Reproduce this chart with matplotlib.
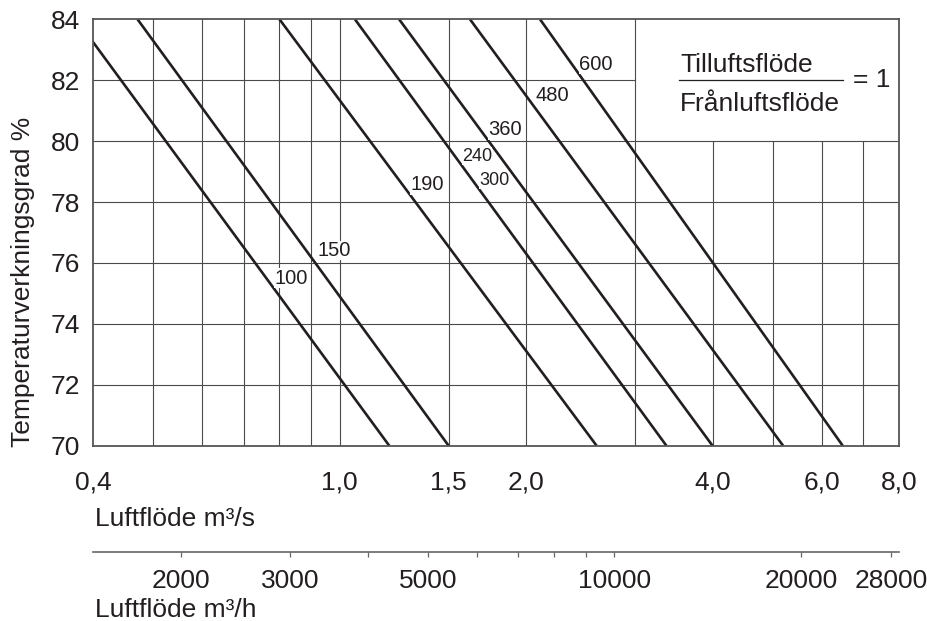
import matplotlib
matplotlib.use("Agg")
import matplotlib.pyplot as plt
from matplotlib.lines import Line2D
from matplotlib.ticker import FixedLocator, FixedFormatter, NullLocator

plt.rcParams['font.family'] = ['Liberation Sans', 'DejaVu Sans']

# ---------------- data ----------------
x_min, x_max = 0.4, 8.0
y_min, y_max = 70, 84
y_ticks = [70, 72, 74, 76, 78, 80, 82, 84]
x_ticks = [0.4, 1.0, 1.5, 2.0, 4.0, 6.0, 8.0]
x_tick_labels = ["0,4", "1,0", "1,5", "2,0", "4,0", "6,0", "8,0"]
grid_x_full = [0.5, 0.6, 0.7, 0.8, 0.9, 1.0, 1.5, 2.0, 3.0]
grid_x_lower = [4.0, 5.0, 6.0, 7.0]
grid_y_full = [72, 74, 76, 78, 80]
grid_y_left = [82]
# efficiency lines: air flow (m3/s) where each line reaches 84 % and 70 %
flow_at_84 = [0.376, 0.472, 0.80, 1.059, 1.248, 1.624, 2.107]
flow_at_70 = [1.203, 1.50, 2.60, 3.37, 4.00, 5.20, 6.49]
line_labels = ["100", "150", "190", "240", "300", "360", "480", "600"]
m3h_ticks = [2000, 3000, 4000, 5000, 6000, 7000, 8000, 9000, 10000, 20000, 28000]
m3h_tick_labels = ["2000", "3000", "", "5000", "", "", "", "", "10000", "20000", "28000"]
s_per_h = 3600

# ---------------- layout ----------------
W, H = 928, 621
def fx(px): return px / W
def fy(py): return 1 - py / H

label_xy = [(0.784, 75.5), (0.92, 76.41), (1.30, 78.56), (1.576, 79.51),
            (1.68, 78.71), (1.737, 80.37), (2.068, 81.51), (2.435, 82.52)]
label_size = [14.5, 14.5, 14.5, 13, 13, 14.5, 14.5, 14.5]

ink = '#231f20'
gridc = '#4a4a4a'
FS = 19

fig = plt.figure(figsize=(W / 100, H / 100), dpi=100)
ax = fig.add_axes([fx(93), fy(445.7), fx(899) - fx(93), fy(19.3) - fy(445.7)])
ax.set_xscale('log')
ax.set_xlim(x_min, x_max)
ax.set_ylim(y_min, y_max)

# grid
for gx in grid_x_full:
    ax.plot([gx, gx], [y_min, y_max], color=gridc, lw=0.8, zorder=1)
for gx in grid_x_lower:
    ax.plot([gx, gx], [y_min, 80], color=gridc, lw=0.8, zorder=1)
for gy in grid_y_full:
    ax.plot([x_min, x_max], [gy, gy], color=gridc, lw=0.8, zorder=1)
for gy in grid_y_left:
    ax.plot([x_min, 3.0], [gy, gy], color=gridc, lw=0.8, zorder=1)

# efficiency lines
for a, b in zip(flow_at_84, flow_at_70):
    ax.plot([a, b], [84, 70], color=ink, lw=1.9, zorder=3, solid_capstyle='butt')

for lab, (lx, ly), s in zip(line_labels, label_xy, label_size):
    ax.text(lx, ly, lab, fontsize=s, color=ink, ha='left', va='center', zorder=4,
            bbox=dict(facecolor='white', edgecolor='none', pad=0.3))

for sp in ax.spines.values():
    sp.set_color('#555555')
    sp.set_linewidth(1.3)
    sp.set_zorder(5)

ax.xaxis.set_major_locator(FixedLocator(x_ticks))
ax.xaxis.set_major_formatter(FixedFormatter(x_tick_labels))
ax.xaxis.set_minor_locator(NullLocator())
ax.set_yticks(y_ticks)
ax.set_yticklabels([str(v) for v in y_ticks])
ax.tick_params(axis='x', length=0, pad=18, labelsize=FS, labelcolor=ink)
ax.tick_params(axis='y', length=0, pad=9, labelsize=FS, labelcolor=ink)

# axis titles
fig.text(fx(95), fy(526), "Luftflöde m³/s", fontsize=FS, color=ink, ha='left', va='baseline')
fig.text(fx(95), fy(617), "Luftflöde m³/h", fontsize=FS, color=ink, ha='left', va='baseline')
fig.text(fx(23), fy(447), "Temperaturverkningsgrad %", fontsize=FS, color=ink,
         rotation=90, ha='center', va='bottom')

# second (m3/h) axis
ax2 = fig.add_axes([fx(93), fy(551.7), fx(899) - fx(93), 0.0001])
ax2.set_xscale('log')
ax2.set_xlim(x_min * s_per_h, x_max * s_per_h)
ax2.set_yticks([])
for k in ['top', 'left', 'right']:
    ax2.spines[k].set_visible(False)
ax2.spines['bottom'].set_color('#666666')
ax2.spines['bottom'].set_linewidth(1.2)
ax2.patch.set_alpha(0)
ax2.xaxis.set_major_locator(FixedLocator(m3h_ticks))
ax2.xaxis.set_major_formatter(FixedFormatter(m3h_tick_labels))
ax2.xaxis.set_minor_locator(NullLocator())
ax2.tick_params(axis='x', direction='out', length=3.8, width=0.9, color='#666666',
                pad=9, labelsize=FS, labelcolor=ink)

# ratio box text
fig.text(fx(680), fy(71.7), "Tilluftsflöde", fontsize=FS, color=ink, ha='left', va='baseline')
fig.text(fx(680), fy(111), "Frånluftsflöde", fontsize=FS, color=ink, ha='left', va='baseline')
fig.add_artist(Line2D([fx(679), fx(843)], [fy(80.3), fy(80.3)], color=ink, lw=0.9,
                      transform=fig.transFigure))
fig.text(fx(853), fy(87.3), "= 1", fontsize=FS, color=ink, ha='left', va='baseline')

fig.savefig("out.png", dpi=100)
